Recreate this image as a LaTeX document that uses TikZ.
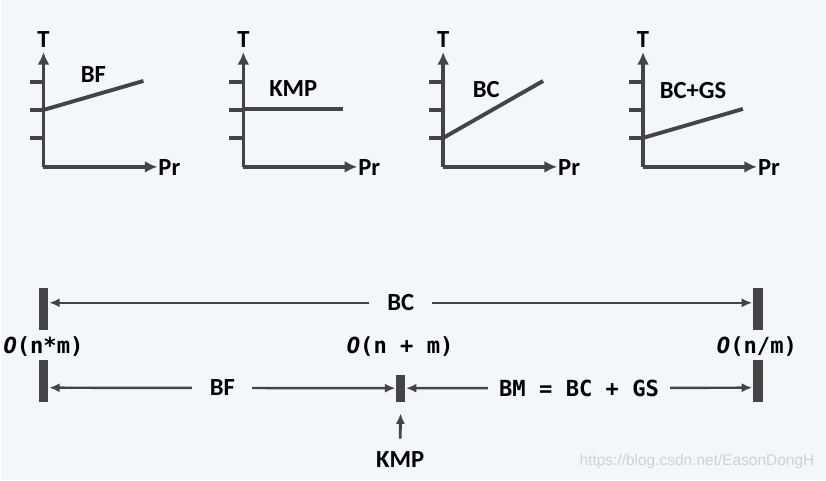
\documentclass[tikz,border=0pt]{standalone}
\usepackage{fontspec}
\setmainfont{Carlito}
\newfontfamily\codefont{DejaVu Sans Mono}
\newfontfamily\urlfont{Liberation Sans}
\usetikzlibrary{arrows.meta,positioning}
\definecolor{bgblue}{HTML}{F3F7FB}
\definecolor{ink}{HTML}{444444}
\definecolor{wmgray}{HTML}{CDD2D7}
\tikzset{
    %Define standard arrow tip
    >={Latex[length=3pt,width=2.6pt]},
    %Define style for the small charts
    axis/.style={
           draw=ink,
           line width=1pt,
           -{Latex[length=3.6pt,width=3.4pt]}},
    tick/.style={
           draw=ink,
           line width=1pt},
    curve/.style={
           draw=ink,
           line width=1.1pt},
    lbl/.style={
           font=\fontsize{7}{8}\selectfont\bfseries,
           text=black,
           inner sep=1pt},
    code/.style={
           font=\fontsize{6.3}{8}\selectfont\codefont\bfseries,
           text=black,
           inner sep=1pt},
    % Define style for the scale
    bar/.style={
           rectangle,
           fill=ink,
           inner sep=0pt,
           minimum width=0.1cm},
    span/.style={
           <->,
           draw=ink,
           line width=0.7pt},
    gap/.style={
           fill=bgblue}
}
\begin{document}
\begin{tikzpicture}[x=0.01cm,y=-0.01cm]

 %background
\path[fill=bgblue] (0,0) rectangle (826,480);

 %charts
\foreach \i/\name/\ya/\yb/\lx/\ly in {0/BF/110/81/93/75,1/KMP/109/109/93/89,2/BC/138/81/86/90,3/BC+GS/138/109/93/91}{
  \begin{scope}[shift={(200*\i,0)}]
    \coordinate (o\i) at (43,167);
    \coordinate (top\i) at (43,52);
    \coordinate (end\i) at (157,167);
    \coordinate (a\i) at (43,\ya);
    \coordinate (b\i) at (143,\yb);
    \node[lbl] (T\i) at (43,40) {T};
    \node[lbl] (Pr\i) at (169,168) {Pr};
    \node[lbl] (name\i) at (\lx,\ly) {\name};
    \draw[axis] (o\i) -- (top\i);
    \draw[axis] (o\i) -- (end\i);
    \foreach \t in {82,110,138}
      \draw[tick] (29,\t) -- (43,\t);
    \draw[curve] (a\i) -- (b\i);
  \end{scope}
}

 %scale
\node[bar, minimum height=0.42cm] (nmTop) at (43,309) {};
\node[bar, minimum height=0.42cm] (nmBot) at (43,381) {};
\node[bar, minimum height=0.42cm] (ndmTop) at (758,309) {};
\node[bar, minimum height=0.42cm] (ndmBot) at (758,381) {};
\node[bar, minimum width=0.09cm, minimum height=0.27cm] (kmpBar) at (400.5,388.5) {};

\node[code] (nm) at (43,347) {{\itshape O}(n*m)};
\node[code] (npm) at (400,347) {{\itshape O}(n + m)};
\node[code] (ndm) at (757,347) {{\itshape O}(n/m)};

\draw[span] (nmTop.east |- 0,303) -- node[lbl, gap, inner xsep=0.18cm] (bc) {BC} (ndmTop.west |- 0,303);
\draw[span] (nmBot.east |- 0,388) -- node[lbl, gap, inner xsep=0.175cm] (bf) {BF} (kmpBar.west);
\draw[span] (kmpBar.east) -- node[code, gap, inner xsep=0.11cm] (bm) {BM = BC + GS} (ndmBot.west |- 0,388);

\node[lbl] (kmp) at (400,460) {KMP};
\coordinate (kmpTail) at (400,439);
\draw[->, draw=ink, line width=0.8pt, shorten >=3.1pt] (kmpTail) -- (kmpBar.south);

\node[font=\urlfont\fontsize{4.4}{5}\selectfont, text=wmgray] (wm) at (697,462) {https://blog.csdn.net/EasonDongH};

\end{tikzpicture}
\end{document}
